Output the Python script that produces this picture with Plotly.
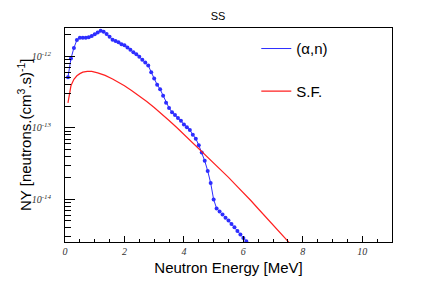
import plotly.graph_objects as go

energy_an = [0.1, 0.2, 0.3, 0.4, 0.5, 0.6, 0.7, 0.8, 0.9, 1.0,
             1.1, 1.2, 1.3, 1.4, 1.5, 1.6, 1.7, 1.8, 1.9, 2.0,
             2.1, 2.2, 2.3, 2.4, 2.5, 2.6, 2.7, 2.8, 2.9, 3.0,
             3.1, 3.2, 3.3, 3.4, 3.5, 3.6, 3.7, 3.8, 3.9, 4.0,
             4.1, 4.2, 4.3, 4.4, 4.5, 4.6, 4.7, 4.8, 4.9, 5.0,
             5.1, 5.2, 5.3, 5.4, 5.5, 5.6, 5.7, 5.8, 5.9, 6.0,
             6.1, 6.2]
ny_an = [5.13e-13, 9.33e-13, 1.318e-12, 1.698e-12, 1.82e-12, 1.82e-12, 1.82e-12, 1.862e-12, 1.928e-12, 2.042e-12,
         2.163e-12, 2.291e-12, 2.213e-12, 2.065e-12, 1.884e-12, 1.718e-12, 1.641e-12, 1.585e-12, 1.479e-12, 1.429e-12,
         1.334e-12, 1.245e-12, 1.148e-12, 1.072e-12, 9.89e-13, 9.02e-13, 8.22e-13, 7.50e-13, 6.03e-13, 4.90e-13,
         4.03e-13, 3.47e-13, 2.82e-13, 2.26e-13, 1.905e-13, 1.66e-13, 1.514e-13, 1.38e-13, 1.259e-13, 1.122e-13,
         1.023e-13, 9.33e-14, 8.04e-14, 7.08e-14, 5.75e-14, 4.52e-14, 3.47e-14, 2.51e-14, 1.70e-14, 1.00e-14,
         7.50e-15, 6.76e-15, 6.17e-15, 5.56e-15, 5.07e-15, 4.52e-15, 4.07e-15, 3.63e-15, 3.24e-15, 2.88e-15,
         2.60e-15, 2.34e-15]

energy_sf = [0.1, 0.15, 0.2, 0.3, 0.4, 0.5, 0.6, 0.75, 0.9, 1.1,
             1.35, 1.6, 1.8, 2.0, 2.25, 2.5, 2.75, 3.0, 3.25, 3.5,
             3.75, 4.0, 4.25, 4.5, 4.75, 5.0, 5.25, 5.5, 5.75, 6.0,
             6.25, 6.5, 6.75, 7.0, 7.25, 7.5, 7.6]
ny_sf = [2.24e-13, 3.09e-13, 3.89e-13, 4.79e-13, 5.37e-13, 5.75e-13, 6.03e-13, 6.17e-13, 6.17e-13, 5.89e-13,
         5.43e-13, 4.84e-13, 4.37e-13, 3.89e-13, 3.31e-13, 2.82e-13, 2.34e-13, 1.93e-13, 1.585e-13, 1.274e-13,
         1.023e-13, 8.13e-14, 6.53e-14, 5.19e-14, 4.17e-14, 3.31e-14, 2.60e-14, 2.04e-14, 1.585e-14, 1.245e-14,
         9.66e-15, 7.41e-15, 5.69e-15, 4.37e-15, 3.39e-15, 2.60e-15, 2.34e-15]

x_ticks = [0, 2, 4, 6, 8, 10]
y_ticks = [1e-14, 1e-13, 1e-12]
y_tick_labels = ["10<sup>-14</sup>", "10<sup>-13</sup>", "10<sup>-12</sup>"]
y_minor = [2e-15, 3e-15, 4e-15, 5e-15, 6e-15, 7e-15, 8e-15, 9e-15,
           2e-14, 3e-14, 4e-14, 5e-14, 6e-14, 7e-14, 8e-14, 9e-14,
           2e-13, 3e-13, 4e-13, 5e-13, 6e-13, 7e-13, 8e-13, 9e-13,
           2e-12]

BLUE = "#2d2dff"
RED = "#ff2020"

fig = go.Figure()
fig.add_trace(go.Scatter(x=energy_an, y=ny_an, mode="lines", name="(α,n)",
                         line=dict(color=BLUE, width=1), legendgroup="a"))
fig.add_trace(go.Scatter(x=energy_an, y=ny_an, mode="markers", showlegend=False,
                         marker=dict(color=BLUE, size=4), legendgroup="a"))
fig.add_trace(go.Scatter(x=energy_sf, y=ny_sf, mode="lines", name="S.F.",
                         line=dict(color=RED, width=1.2), legendgroup="b"))

tickfont = dict(family="Liberation Serif", size=10, color="#333333", style="italic")

fig.update_layout(
    width=436, height=285,
    margin=dict(l=65, r=44, t=28, b=43),
    paper_bgcolor="white", plot_bgcolor="white",
    hovermode=False,
    font=dict(family="Liberation Sans", color="black"),
    title=dict(text="SS", x=0.5, xref="container", xanchor="center",
               y=1 - 16 / 285, yref="container", yanchor="middle",
               font=dict(size=11, family="Liberation Sans")),
    showlegend=True,
    legend=dict(x=0.585, y=0.98, xanchor="left", yanchor="top",
                bgcolor="rgba(0,0,0,0)", borderwidth=0,
                font=dict(size=15, family="Liberation Sans"),
                tracegroupgap=20, traceorder="grouped"),
    xaxis=dict(range=[0, 11], showline=True, linecolor="black", linewidth=1, mirror=True,
               ticks="inside", ticklen=6, tickcolor="black", tickwidth=1,
               tickvals=x_ticks, ticktext=[str(v) for v in x_ticks],
               tickfont=tickfont, showgrid=False, zeroline=False, automargin=False,
               minor=dict(dtick=0.5, ticks="inside", ticklen=3, tickcolor="black", showgrid=False),
               title=dict(text="Neutron Energy [MeV]", font=dict(size=15), standoff=6)),
    yaxis=dict(type="log", range=[-14.595, -11.602], showline=True, linecolor="black", linewidth=1,
               mirror=True, ticks="inside", ticklen=10, tickcolor="black", tickwidth=1,
               tickvals=y_ticks, ticktext=y_tick_labels, tickfont=tickfont, showgrid=False, zeroline=False,
               ticklabelstandoff=11, automargin=False,
               minor=dict(tickvals=y_minor, ticks="inside", ticklen=6, tickcolor="black", showgrid=False)),
    annotations=[dict(text="NY [neutrons.(cm<sup>3</sup>.s)<sup>-1</sup>]", textangle=-90,
                      xref="paper", yref="paper", x=-41 / 327, y=0.5,
                      xanchor="center", yanchor="middle", showarrow=False,
                      font=dict(size=15, family="Liberation Sans"))],
)

fig.write_html("out.html", config={"displayModeBar": False},
               post_script="document.body.style.margin='0px';")
